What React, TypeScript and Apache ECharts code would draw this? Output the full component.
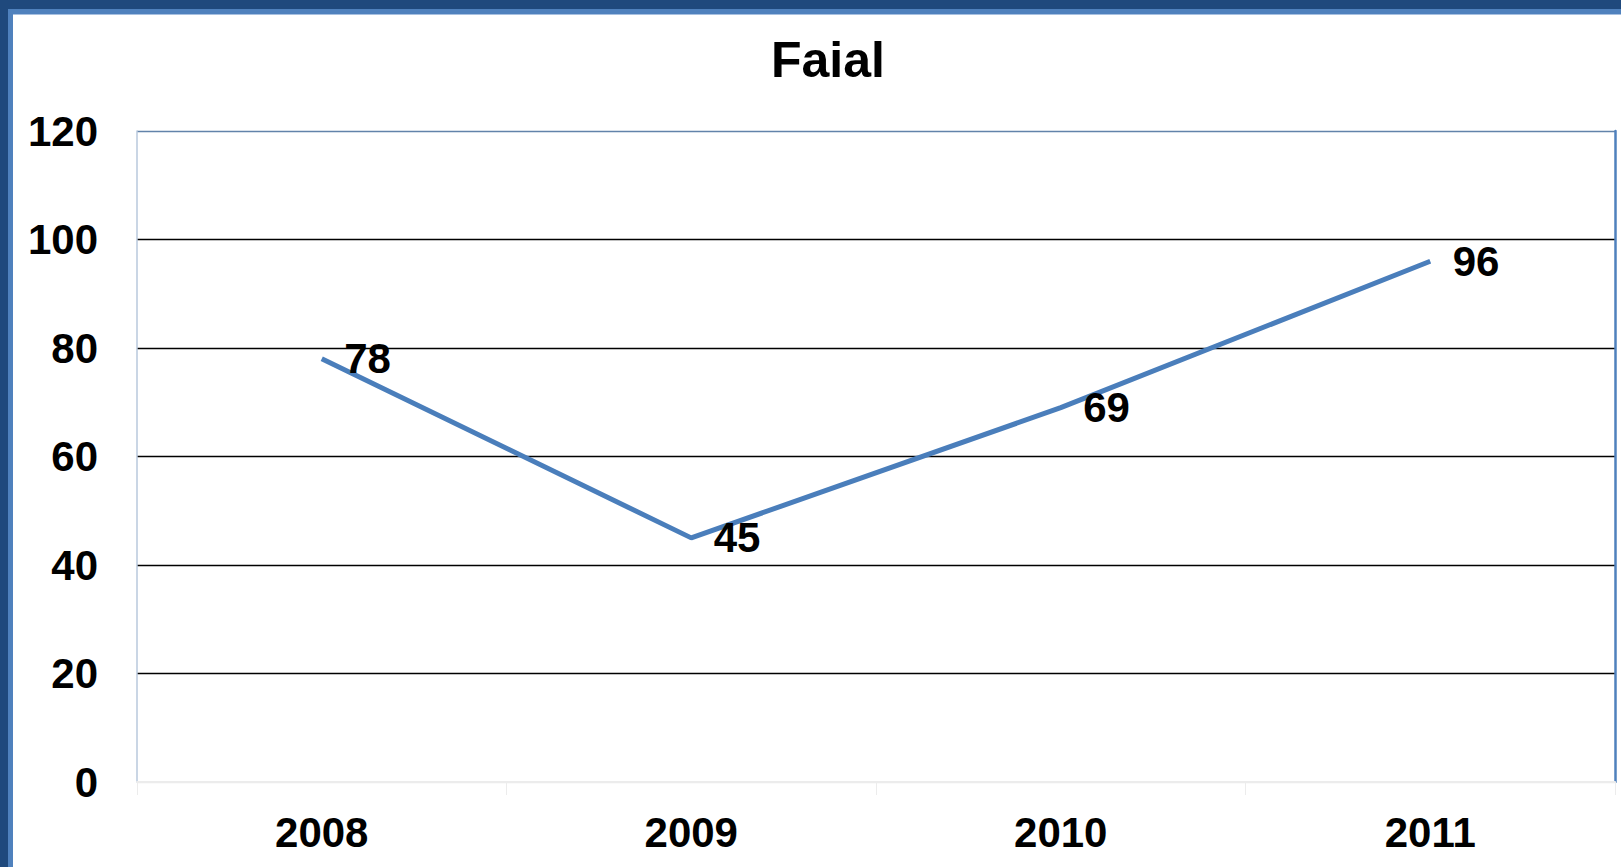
import React, { useEffect, useRef } from "react";
import * as echarts from "echarts";

const categories = ["2008", "2009", "2010", "2011"];
const values = [78, 45, 69, 96];
const titleText = "Faial";
const FONT = "'Liberation Sans', Arial, Helvetica, sans-serif";

export default function App() {
  const ref = useRef<HTMLDivElement>(null);
  useEffect(() => {
    document.body.style.margin = "0";
    const chart = echarts.init(ref.current!, null, { renderer: "svg" });
    chart.setOption({
      animation: false,
      backgroundColor: "#ffffff",
      title: {
        text: titleText,
        left: 771,
        top: 35,
        padding: 0,
        textStyle: { fontFamily: FONT, fontSize: 50, fontWeight: "bold", color: "#000" },
      },
      grid: { left: 137, right: 6, top: 131, bottom: 85, containLabel: false },
      xAxis: {
        type: "category",
        data: categories,
        boundaryGap: true,
        axisLine: { show: true, lineStyle: { color: "#ececec", width: 2 } },
        axisTick: { show: true, length: 13, lineStyle: { color: "#ececec", width: 1 } },
        axisLabel: { margin: 29, fontFamily: FONT, fontSize: 42, fontWeight: "bold", color: "#000" },
        splitLine: { show: false },
      },
      yAxis: [
        {
          type: "value",
          min: 0,
          max: 120,
          interval: 20,
          axisLine: { show: true, lineStyle: { color: "#b9c9dc", width: 1.5 } },
          axisTick: { show: false },
          axisLabel: { margin: 39, fontFamily: FONT, fontSize: 42, fontWeight: "bold", color: "#000" },
          splitLine: {
            show: true,
            lineStyle: {
              color: ["#ececec", "#000", "#000", "#000", "#000", "#000", "#6283aa"],
              width: 1.3,
            },
          },
        },
        {
          type: "value",
          position: "right",
          min: 0,
          max: 120,
          interval: 20,
          axisLine: { show: true, lineStyle: { color: "#4f81bd", width: 2.5 } },
          axisTick: { show: false },
          axisLabel: { show: false },
          splitLine: { show: false },
        },
      ],
      graphic: [
        { type: "rect", left: 0, top: 0, shape: { width: 1621, height: 9 }, style: { fill: "#1f497d" }, z: 100 },
        { type: "rect", left: 0, top: 0, shape: { width: 8, height: 867 }, style: { fill: "#1f497d" }, z: 100 },
        { type: "rect", left: 8, top: 9, shape: { width: 1613, height: 5 }, style: { fill: "#4f81bd" }, z: 99 },
        { type: "rect", left: 8, top: 9, shape: { width: 5, height: 858 }, style: { fill: "#4f81bd" }, z: 99 },
        { type: "rect", left: 13, top: 14, shape: { width: 1608, height: 1 }, style: { fill: "#a7c0e0" }, z: 98 },
      ],
      series: [
        {
          type: "line",
          data: values,
          yAxisIndex: 0,
          symbol: "circle",
          symbolSize: 1,
          showSymbol: true,
          itemStyle: { color: "#4a7ebb", opacity: 0 },
          lineStyle: { color: "#4a7ebb", width: 5 },
          label: {
            show: true,
            position: "right",
            distance: 22,
            fontFamily: FONT,
            fontSize: 42,
            fontWeight: "bold",
            color: "#000",
            opacity: 1,
          },
        },
      ],
    });
    return () => chart.dispose();
  }, []);
  return <div ref={ref} style={{ width: 1621, height: 867 }} />;
}
